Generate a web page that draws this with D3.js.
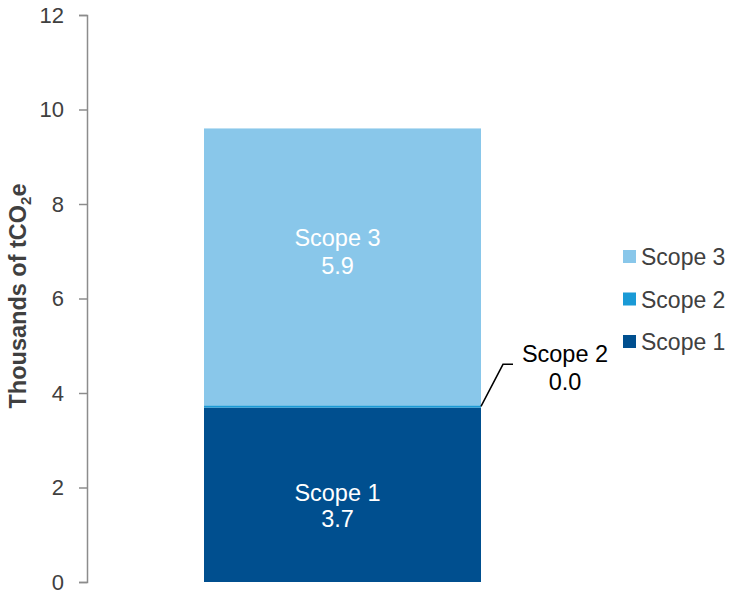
<!DOCTYPE html>
<html>
<head>
<meta charset="utf-8">
<script src="https://cdn.jsdelivr.net/npm/d3@7"></script>
<style>
  html, body { margin: 0; padding: 0; background: #fff; }
  svg { display: block; font-family: "Liberation Sans", Arial, sans-serif; }
</style>
</head>
<body>
<svg id="chart" width="729" height="595"></svg>
<script>
// Emissions by scope, thousands of tCO2e
const scopes = ["Scope 1", "Scope 2", "Scope 3"];
const values = [3.69, 0.049, 5.86];
const colors = ["#004F8F", "#1A9AD6", "#89C7EA"];
const yTicks = [0, 2, 4, 6, 8, 10, 12];

const svg = d3.select("#chart");
const axisX = 87;

const y = d3.scaleLinear().domain([0, 12]).range([582, 15]);
const x = d3.scaleBand().domain(["total"]).range([204, 481]).padding(0);

// stack values
let acc = 0;
const stacked = values.map((v, i) => {
  const s = { name: scopes[i], value: v, y0: acc, y1: acc + v, color: colors[i] };
  acc += v;
  return s;
});

// y axis
const axis = d3.axisLeft(y).tickValues(yTicks).tickSize(8).tickPadding(15).tickFormat(d3.format("d"));
const gAxis = svg.append("g").attr("transform", `translate(${axisX},0)`).call(axis);
gAxis.select(".domain").attr("stroke", "#8c8c8c").attr("stroke-width", 1.5);
gAxis.selectAll(".tick line").attr("stroke", "#8c8c8c").attr("stroke-width", 1.5);
gAxis.selectAll(".tick text").attr("fill", "#404040").style("font-size", "22px")
  .style("font-family", "'Liberation Sans', Arial, sans-serif");

// y axis title
const title = svg.append("text")
  .attr("transform", `translate(26, 296) rotate(-90)`)
  .attr("text-anchor", "middle")
  .attr("fill", "#404040")
  .style("font-size", "23.5px")
  .style("font-weight", "bold");
title.append("tspan").text("Thousands of tCO");
title.append("tspan").text("2").attr("dy", 5).style("font-size", "15px");
title.append("tspan").text("e").attr("dy", -5);

// bar segments
svg.selectAll("rect.seg").data(stacked).join("rect")
  .attr("class", "seg")
  .attr("x", x("total"))
  .attr("width", x.bandwidth())
  .attr("y", d => y(d.y1))
  .attr("height", d => y(d.y0) - y(d.y1))
  .attr("fill", d => d.color);

// inside labels for Scope 1 and Scope 3 (baselines relative to segment middle)
const cx = x("total") + x.bandwidth() / 2 - 5;
const labelShift = { "Scope 1": [6.5, 32.5], "Scope 3": [-20.5, 7.5] };
stacked.filter(d => d.name !== "Scope 2").forEach(d => {
  const my = (y(d.y0) + y(d.y1)) / 2;
  const [a, b] = labelShift[d.name];
  const t = svg.append("text").attr("text-anchor", "middle").attr("fill", "#fff").style("font-size", "23.5px");
  t.append("tspan").attr("x", cx).attr("y", my + a).text(d.name);
  t.append("tspan").attr("x", cx).attr("y", my + b).text(d.value.toFixed(1));
});

// callout for Scope 2
const s2 = stacked[1];
const bx = x("total") + x.bandwidth();
const by = y(s2.y1);
svg.append("path")
  .attr("d", `M${bx},${by + 1} L${bx + 22},${by - 41} L${bx + 32},${by - 41}`)
  .attr("fill", "none").attr("stroke", "#000").attr("stroke-width", 1.5);
const ct = svg.append("text").attr("text-anchor", "middle").attr("fill", "#000").style("font-size", "23.5px");
ct.append("tspan").attr("x", 565).attr("y", by - 43.5).text(s2.name);
ct.append("tspan").attr("x", 565).attr("y", by - 15).text(s2.value.toFixed(1));

// legend (Scope 3 on top)
const legend = svg.append("g").attr("transform", "translate(623, 250)");
const legendItems = stacked.slice().reverse();
legendItems.forEach((d, i) => {
  const g = legend.append("g").attr("transform", `translate(0, ${i * 42.5})`);
  g.append("rect").attr("width", 13).attr("height", 13).attr("fill", d.color);
  g.append("text").attr("x", 18).attr("y", 15).attr("fill", "#404040").style("font-size", "23px").text(d.name);
});
</script>
</body>
</html>
